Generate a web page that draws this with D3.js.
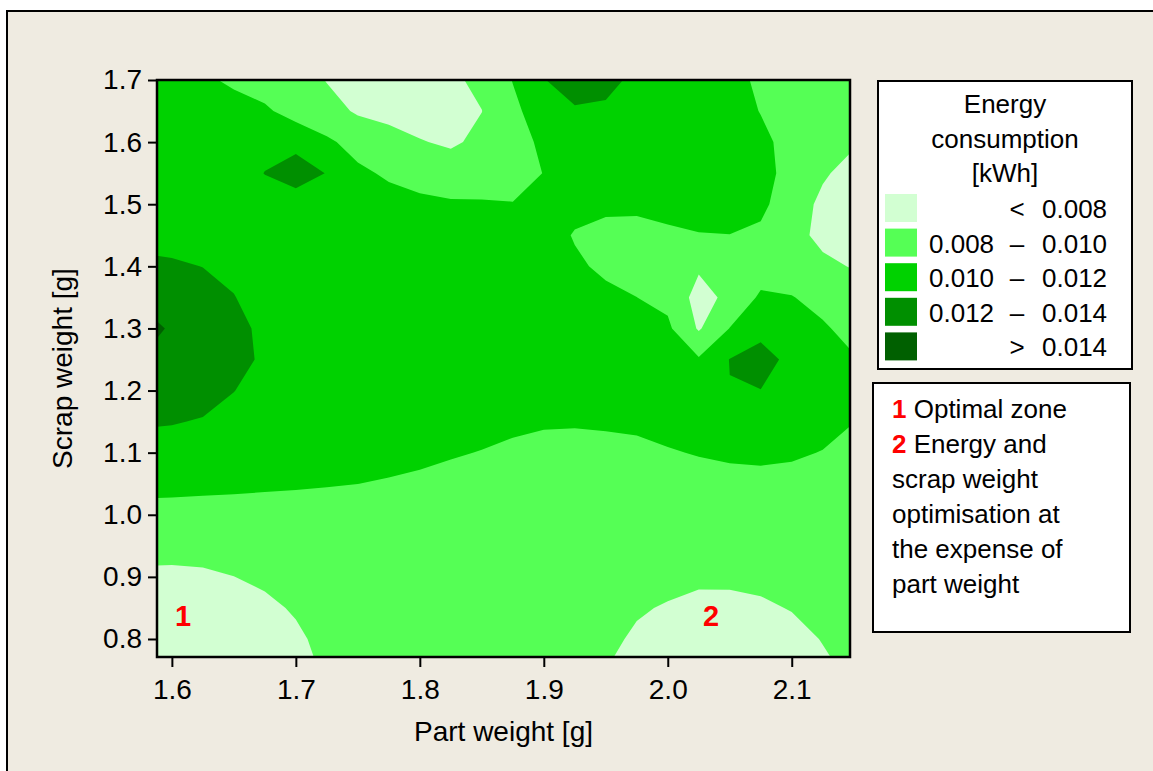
<!DOCTYPE html>
<html>
<head>
<meta charset="utf-8">
<script src="https://cdn.jsdelivr.net/npm/d3@7"></script>
<style>
  html, body { margin: 0; padding: 0; background: #ffffff; }
  svg { display: block; font-family: "Liberation Sans", Arial, Helvetica, sans-serif; }
</style>
</head>
<body>
<svg id="chart" width="1153" height="771"></svg>
<script>
// Grid of the fitted energy surface: columns = part weight [g], rows = scrap weight [g]
const partWeight = [1.575, 1.600, 1.625, 1.650, 1.675, 1.700, 1.725, 1.750, 1.775, 1.800, 1.825, 1.850,
                    1.875, 1.900, 1.925, 1.950, 1.975, 2.000, 2.025, 2.050, 2.075, 2.100, 2.125, 2.150];
const scrapWeight = [1.70, 1.65, 1.60, 1.55, 1.50, 1.45, 1.40, 1.35, 1.30, 1.25,
                     1.20, 1.15, 1.10, 1.05, 1.00, 0.95, 0.90, 0.85, 0.80, 0.75];

// Energy consumption per grid node, in Wh (1 Wh = 0.001 kWh); one row per scrap weight
const energyWh = [
  [11, 11, 10.3, 9.7, 9.35, 8.95, 7.92, 7.07, 7.2, 7.0, 7.68, 8.41, 10.06, 11.94, 12.7, 12.45, 11.64, 11, 11, 10.65, 9.64, 9, 9, 9],
  [11, 11, 11, 10.68, 10.21, 9.45, 8.7, 7.77, 7.52, 7.26, 7.0, 7.98, 9.6, 10.95, 11.84, 11.75, 11, 11, 11, 10.75, 9.94, 9, 9, 9],
  [11, 11, 11, 11, 11.3, 11.0, 10.3, 9.35, 8.6, 8.1, 7.74, 8.4, 9.35, 10.31, 11, 11, 11, 11, 11, 11, 10.4, 9.42, 8.9, 8.2],
  [11, 11, 11, 11, 12.05, 13.6, 11.88, 10.34, 9.75, 9.35, 8.95, 9.15, 9.1, 10.05, 11, 11, 11, 11, 11, 11, 10.5, 9.5, 8.22, 7.35],
  [11, 11, 11, 11, 11, 10.3, 11, 11, 10.64, 10.36, 10.21, 10.15, 10.08, 10.4, 10.66, 10.41, 10.38, 10.65, 10.9, 10.97, 10.4, 8.95, 7.61, 7.0],
  [11.43, 11.29, 11, 11, 11, 11, 11, 11, 11, 11, 11, 11, 11, 10.97, 9.85, 9.42, 9.38, 9.65, 9.9, 9.97, 9.67, 8.6, 7.55, 7.0],
  [12.42, 12.26, 11.97, 11.43, 11, 11, 11, 11, 11, 11, 11, 11, 11, 11, 10.33, 9.61, 9.11, 8.85, 8.25, 8.75, 9.04, 9.0, 8.39, 7.88],
  [13, 13, 12.85, 12.08, 11, 11, 11, 11, 11, 11, 11, 11, 11, 11, 11, 10.46, 10.01, 9.5, 7.3, 8.45, 10.3, 10.07, 9.48, 9.0],
  [16.4, 13.3, 13, 12.54, 11.59, 11, 11, 11, 11, 11, 11, 11, 11, 11, 11, 11, 11, 10.35, 7.8, 10.05, 10.7, 10.89, 10.2, 9.47],
  [13.9, 13.0, 13.0, 12.65, 11.68, 11, 11, 11, 11, 11, 11, 11, 11, 11, 11, 11, 11, 10.56, 10.2, 12.05, 13.6, 10.9, 10.87, 10.13],
  [13, 13, 12.76, 12.04, 11.23, 11, 11, 11, 11, 11, 11, 11, 11, 11, 11, 11, 11, 11, 11, 11.95, 11.93, 11.26, 11, 11],
  [12.27, 12.12, 11.87, 11.32, 11, 11, 11, 11, 11, 11, 11, 10.85, 10.48, 10.26, 10.21, 10.31, 10.43, 10.76, 11, 11, 11, 11, 10.8, 10.03],
  [11, 11.13, 11, 11, 11, 11, 11, 11, 10.8, 10.53, 10.22, 9.91, 9.55, 9.26, 9.21, 9.3, 9.47, 9.83, 10.13, 10.34, 10.42, 10.29, 9.92, 9.32],
  [10.48, 10.44, 10.39, 10.34, 10.27, 10.2, 10.11, 10.01, 9.8, 9.56, 9.23, 9, 9, 9, 9, 9, 9, 9, 9.13, 9.34, 9.42, 9.29, 9, 9],
  [9.49, 9.44, 9.39, 9.34, 9.27, 9.2, 9.11, 9, 9, 9, 9, 9, 9, 9, 9, 9, 9, 9, 9, 9, 9, 9, 9, 9],
  [8.65, 8.62, 8.69, 8.93, 9, 9, 9, 9, 9, 9, 9, 9, 9, 9, 9, 9, 9, 9, 9, 9, 9, 9, 9, 9],
  [7.65, 7.62, 7.7, 7.98, 8.37, 8.97, 9, 9, 9, 9, 9, 9, 9, 9, 9, 9, 9, 8.74, 8.41, 8.42, 8.56, 9, 9, 9],
  [7, 7, 7, 7.07, 7.58, 8.21, 9, 9, 9, 9, 9, 9, 9, 9, 9, 9, 8.25, 7.8, 7.41, 7.41, 7.66, 8.11, 8.69, 9],
  [7, 7, 7, 7, 7, 7.65, 8.58, 9, 9, 9, 9, 9, 9, 9, 9, 8.52, 7.66, 7, 7, 7, 7, 7.28, 8.1, 8.95],
  [7, 7, 7, 7, 7, 7.32, 8.26, 9, 9, 9, 9, 9, 9, 9, 9, 8.01, 7.15, 7, 7, 7, 7, 7, 7.56, 8.41]
];

// Contour levels [kWh] and band colours (lowest band first)
const levels = [0.008, 0.010, 0.012, 0.014];
const palette = ["#d2ffd2", "#55ff55", "#00d200", "#008f00", "#006000"];

// Axis ticks and ranges
const xTicks = [1.6, 1.7, 1.8, 1.9, 2.0, 2.1];
const yTicks = [0.8, 0.9, 1.0, 1.1, 1.2, 1.3, 1.4, 1.5, 1.6, 1.7];
const xRange = [1.588, 2.147];
const yRange = [0.771, 1.70];

// Zone markers drawn inside the plot
const zones = [
  { label: "1", part: 1.609, scrap: 0.821 },
  { label: "2", part: 2.035, scrap: 0.821 }
];

// Explanatory note lines: [red marker, text]
const notes = [
  ["1", "Optimal zone"],
  ["2", "Energy and"],
  ["", "scrap weight"],
  ["", "optimisation at"],
  ["", "the expense of"],
  ["", "part weight"]
];

const svg = d3.select("#chart");
const plot = { left: 157, top: 80, right: 850, bottom: 657 };

// Panel background
svg.append("rect")
  .attr("x", 7).attr("y", 11).attr("width", 1170).attr("height", 800)
  .attr("fill", "#efebe1").attr("stroke", "#000").attr("stroke-width", 2);

const x = d3.scaleLinear().domain(xRange).range([plot.left, plot.right]);
const y = d3.scaleLinear().domain(yRange).range([plot.bottom, plot.top]);

svg.append("defs").append("clipPath").attr("id", "plotClip")
  .append("rect")
  .attr("x", plot.left).attr("y", plot.top)
  .attr("width", plot.right - plot.left).attr("height", plot.bottom - plot.top);

// Contour bands
const nx = partWeight.length, ny = scrapWeight.length;
const dxg = partWeight[1] - partWeight[0];
const dyg = scrapWeight[1] - scrapWeight[0];
const values = energyWh.flat().map(v => v / 1000);

const bands = d3.contours().size([nx, ny]).thresholds(levels)(values);

const gridToPx = d3.geoTransform({
  point(gx, gy) {
    const pw = partWeight[0] + (gx - 0.5) * dxg;
    const sw = scrapWeight[0] + (gy - 0.5) * dyg;
    this.stream.point(x(pw), y(sw));
  }
});
const path = d3.geoPath(gridToPx);

const gPlot = svg.append("g").attr("clip-path", "url(#plotClip)");
gPlot.append("rect")
  .attr("x", plot.left).attr("y", plot.top)
  .attr("width", plot.right - plot.left).attr("height", plot.bottom - plot.top)
  .attr("fill", palette[0]);
gPlot.selectAll("path.band")
  .data(bands)
  .join("path")
  .attr("class", "band")
  .attr("d", path)
  .attr("fill", (d, i) => palette[i + 1]);

// Zone numbers
gPlot.selectAll("text.zone")
  .data(zones)
  .join("text")
  .attr("class", "zone")
  .attr("x", d => x(d.part))
  .attr("y", d => y(d.scrap))
  .attr("text-anchor", "middle")
  .attr("font-size", 29)
  .attr("font-weight", "bold")
  .attr("fill", "#ff0000")
  .text(d => d.label);

// Plot frame
svg.append("rect")
  .attr("x", plot.left).attr("y", plot.top)
  .attr("width", plot.right - plot.left).attr("height", plot.bottom - plot.top)
  .attr("fill", "none").attr("stroke", "#000").attr("stroke-width", 2.5);

// Axes
const fmt = d3.format(".1f");
const xAxis = svg.append("g")
  .attr("transform", `translate(0,${plot.bottom})`)
  .call(d3.axisBottom(x).tickValues(xTicks).tickFormat(fmt).tickSize(10).tickPadding(12).tickSizeOuter(0));
const yAxis = svg.append("g")
  .attr("transform", `translate(${plot.left},0)`)
  .call(d3.axisLeft(y).tickValues(yTicks).tickFormat(fmt).tickSize(9).tickPadding(6).tickSizeOuter(0));
[xAxis, yAxis].forEach(g => {
  g.select(".domain").remove();
  g.selectAll(".tick line").attr("stroke", "#000").attr("stroke-width", 2);
  g.selectAll(".tick text").attr("fill", "#000").attr("font-size", 28)
    .attr("font-family", "Liberation Sans, Arial, sans-serif");
});

svg.append("text")
  .attr("x", (plot.left + plot.right) / 2).attr("y", 741)
  .attr("text-anchor", "middle").attr("font-size", 28).attr("fill", "#000")
  .text("Part weight [g]");
svg.append("text")
  .attr("transform", `translate(72,${(plot.top + plot.bottom) / 2}) rotate(-90)`)
  .attr("text-anchor", "middle").attr("font-size", 28).attr("fill", "#000")
  .text("Scrap weight [g]");

// Colour legend
const leg = svg.append("g");
leg.append("rect")
  .attr("x", 878).attr("y", 81).attr("width", 254).attr("height", 288)
  .attr("fill", "#fff").attr("stroke", "#000").attr("stroke-width", 2);
["Energy", "consumption", "[kWh]"].forEach((t, i) => {
  leg.append("text")
    .attr("x", 1005).attr("y", 113 + i * 34.5)
    .attr("text-anchor", "middle").attr("font-size", 26).attr("fill", "#000")
    .text(t);
});
const f3 = d3.format(".3f");
const legendRows = palette.map((c, i) => ({
  color: c,
  lo: i === 0 ? null : levels[i - 1],
  hi: i === levels.length ? null : levels[i]
}));
legendRows.forEach((r, i) => {
  const base = 218 + i * 34.6;
  leg.append("rect")
    .attr("x", 885).attr("y", base - 24).attr("width", 32).attr("height", 28)
    .attr("fill", r.color);
  if (r.lo !== null && r.hi !== null) {
    leg.append("text").attr("x", 929).attr("y", base)
      .attr("font-size", 26).attr("fill", "#000").text(f3(r.lo));
  }
  const sym = r.lo === null ? "<" : (r.hi === null ? ">" : "\u2013");
  leg.append("text").attr("x", 1017).attr("y", base)
    .attr("text-anchor", "middle").attr("font-size", 26).attr("fill", "#000").text(sym);
  leg.append("text").attr("x", 1042).attr("y", base)
    .attr("font-size", 26).attr("fill", "#000").text(f3(r.hi === null ? r.lo : r.hi));
});

// Notes box
const nb = svg.append("g");
nb.append("rect")
  .attr("x", 873).attr("y", 383).attr("width", 257).attr("height", 249)
  .attr("fill", "#fff").attr("stroke", "#000").attr("stroke-width", 2);
notes.forEach((n, i) => {
  const t = nb.append("text").attr("x", 892).attr("y", 418 + i * 35)
    .attr("font-size", 26).attr("fill", "#000");
  if (n[0]) {
    t.append("tspan").attr("fill", "#ff0000").attr("font-weight", "bold").text(n[0]);
    t.append("tspan").text(" " + n[1]);
  } else {
    t.text(n[1]);
  }
});
</script>
</body>
</html>
